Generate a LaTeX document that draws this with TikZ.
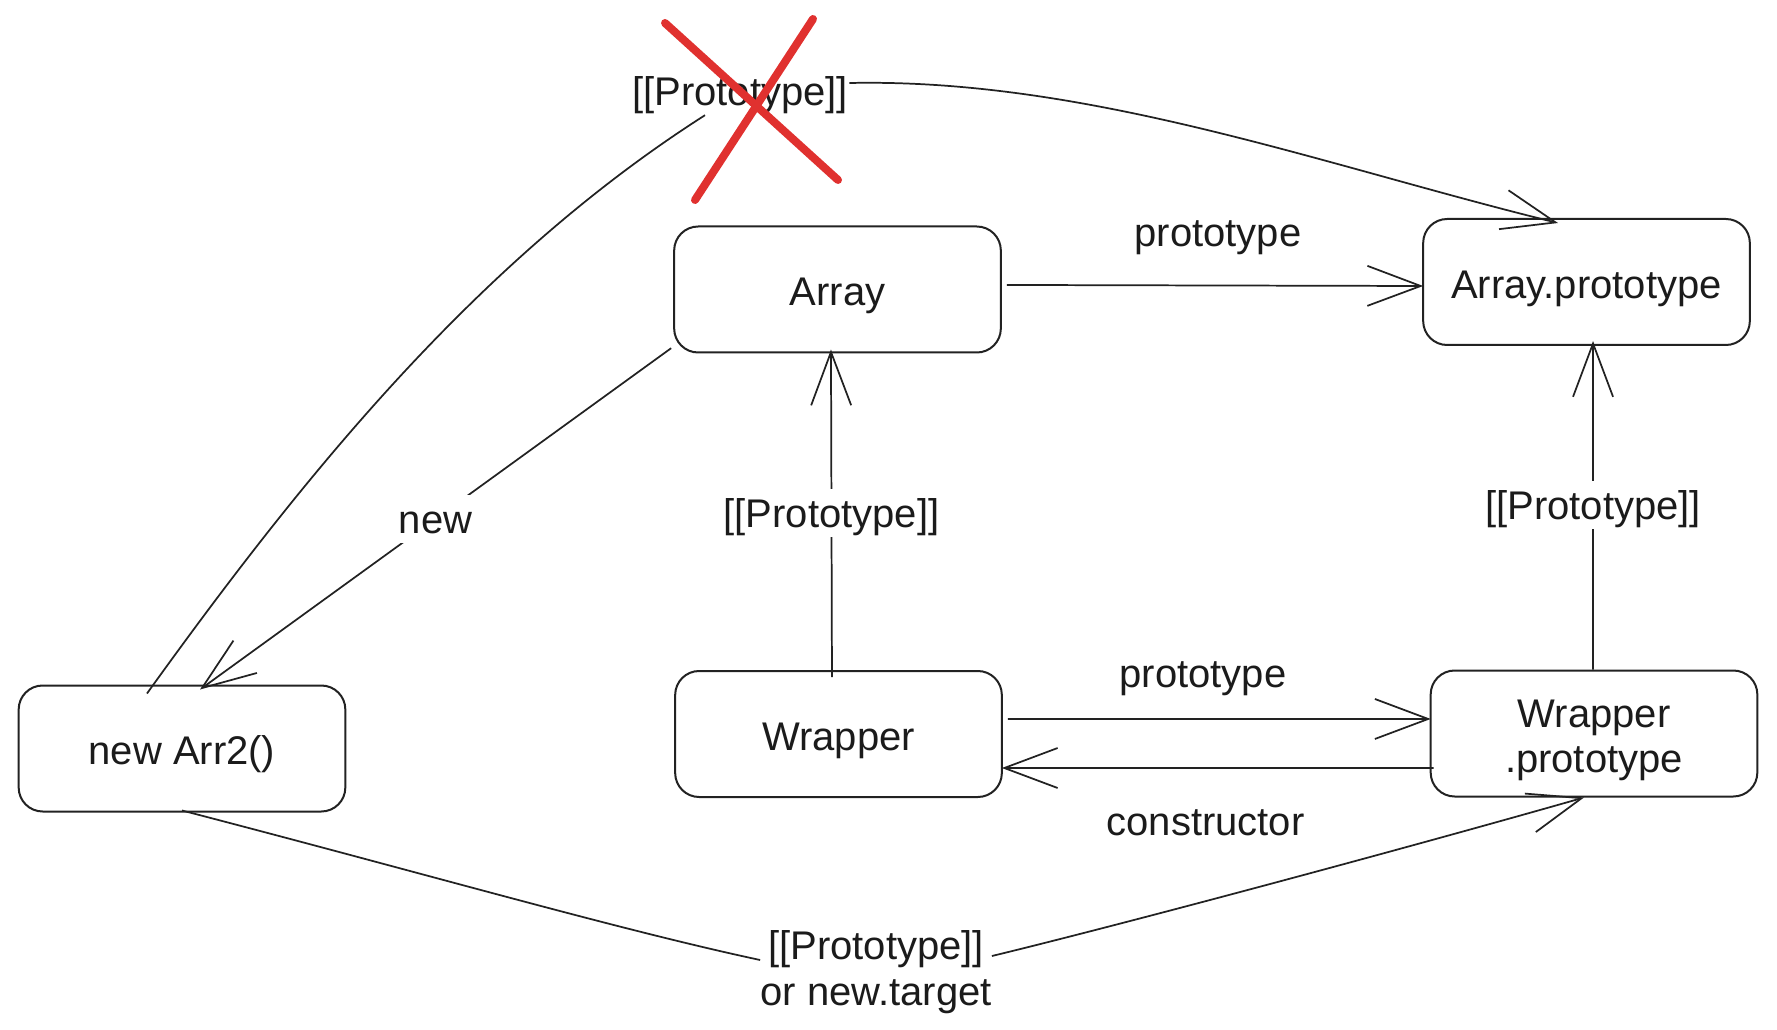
\documentclass[tikz,border=0pt]{standalone}
\usepackage{fontspec}
\setmainfont{Liberation Sans}
\usetikzlibrary{arrows.meta}
\definecolor{ink}{HTML}{1B1B1B}
\definecolor{edgec}{HTML}{222222}
\definecolor{crossred}{HTML}{E0312F}
\newcommand{\diafont}{\fontsize{30pt}{34pt}\selectfont}
\begin{document}
\begin{tikzpicture}[x=0.75pt,y=-0.75pt,
  boxbase/.style={draw=edgec, line width=1.5pt, rounded corners=18pt, minimum width=245pt, minimum height=94.5pt, align=center, font=\diafont, text=ink, inner sep=0pt},
  box/.style={boxbase, text height=30.5pt},
  lbl/.style={font=\diafont, text=ink, inner sep=1pt, text height=28pt, text depth=5.9pt},
  onlbl/.style={lbl, fill=white},
  conn/.style={draw=edgec, line width=1.3pt},
  arr/.style={conn, -{Straight Barb[length=40pt,width=30pt]}},
  cross/.style={draw=crossred, line width=6pt, line cap=round}]
\useasboundingbox (0,0) rectangle (1777,1030);

% boxes
\node[box] (array)   at (837.5,289.5) {Array};
\node[box] (aproto)  at (1586.5,282)  {Array.prototype};
\node[box] (arr2)    at (182,748.5)   {new Arr2()};
\node[box] (wrapper) at (838.5,734)   {Wrapper};
\node[boxbase] (wproto) at (1594,733.5) {\rule{0pt}{30.5pt}Wrapper\\.prototype};

% free labels
\node[lbl] (lblTop)  at (740,91)    {[[Prototype]]};
\node[lbl] (lblP1)   at (1218,232)  {prototype};
\node[lbl] (lblP2)   at (1203,673)  {prototype};
\node[lbl] (lblCons) at (1205.5,821) {constructor};
\node[font=\diafont, text=ink, align=center, inner sep=0pt] (lblBot) at (876,972) {[[Prototype]]\\or new.target};

% straight connectors
\draw[arr] ([xshift=3.75pt,yshift=3.4pt]array.east) -- ([xshift=0.75pt,yshift=-3pt]aproto.west);
\draw[arr] ([xshift=-4.9pt,yshift=-5.25pt]wrapper.north) -- node[onlbl, midway] (lblMid) {[[Prototype]]} ([xshift=-4.9pt,yshift=3pt]array.south);
\draw[arr] ([xshift=-0.75pt]wproto.north) -- node[onlbl, midway] (lblRight) {[[Prototype]]} ([xshift=4.9pt,yshift=3.75pt]aproto.south);
\draw[arr] ([xshift=3.75pt,yshift=11.25pt]wrapper.east) -- ([xshift=0.75pt,yshift=10.9pt]wproto.west);
\draw[arr] ([xshift=3pt,yshift=-25.9pt]wproto.west) -- ([xshift=-0.75pt,yshift=-25.5pt]wrapper.east);
\draw[arr] ([xshift=-1.5pt,yshift=4pt]array.south west) -- node[onlbl, midway] (lblNew) {new} ([xshift=13.5pt,yshift=-3.75pt]arr2.north);

% curved connectors
\draw[conn] ([xshift=-26.25pt,yshift=-6.75pt]arr2.north) .. controls (304,475) and (478,260) .. ([xshift=-26.25pt]lblTop.south);
\draw[arr] ([yshift=6pt]lblTop.east) .. controls (1089,78) and (1325,166) .. ([xshift=-21.4pt,yshift=-3.75pt]aproto.north);

\draw[conn] ([yshift=1.5pt]arr2.south) .. controls (430,875) and (620,930) .. ([yshift=9pt]lblBot.west);
\draw[arr] ([yshift=12pt]lblBot.east) .. controls (1120,925) and (1400,850) .. ([xshift=-7.5pt]wproto.south);

% red cross
\draw[cross] (665,23) -- (838,180);
\draw[cross] (813,19) -- (695,200);
\end{tikzpicture}
\end{document}
